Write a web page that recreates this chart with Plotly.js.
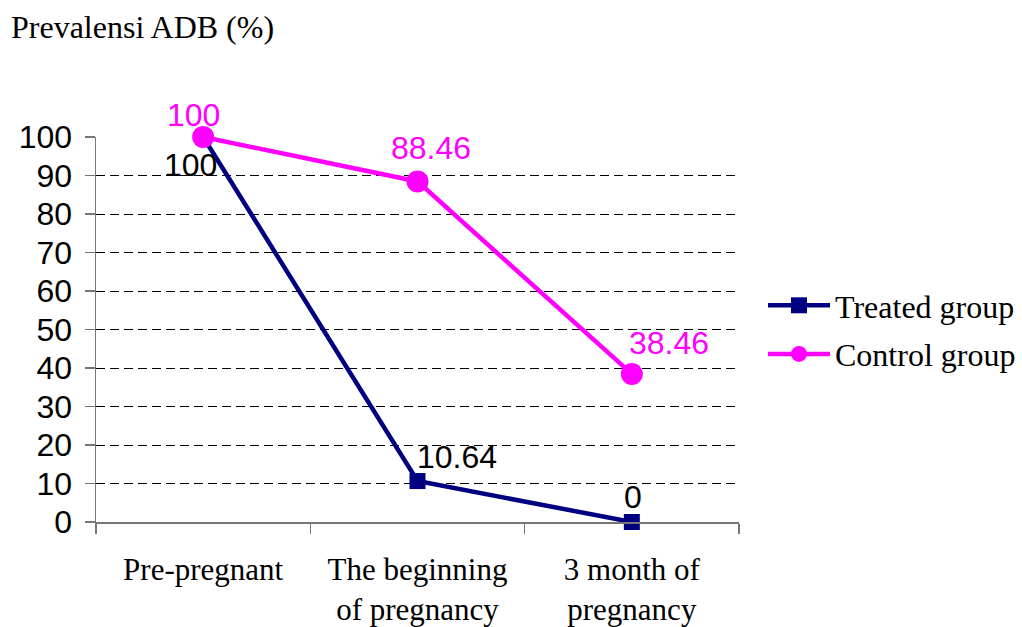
<!DOCTYPE html>
<html>
<head>
<meta charset="utf-8">
<script src="https://cdn.plot.ly/plotly-3.0.1.min.js"></script>
<style>html,body{margin:0;padding:0;background:#fff;} #chart{width:1022px;height:627px;}</style>
</head>
<body>
<div id="chart"></div>
<script>
const categories = ["Pre-pregnant", "The beginning<br>of pregnancy", "3 month of<br>pregnancy"];
const treatedValues = [100, 10.64, 0];
const controlValues = [100, 88.46, 38.46];
const treatedLabels = ["100", "10.64", "0"];
const controlLabels = ["100", "88.46", "38.46"];
const yTicks = [0, 10, 20, 30, 40, 50, 60, 70, 80, 90, 100];

const NAVY = "#000080", MAGENTA = "#FF00FF";
const SANS = "Liberation Sans, Arial, sans-serif";
const SERIF = "Liberation Serif, Times New Roman, serif";

const traces = [
  {
    name: "Treated group", legendgroup: "treated", x: categories, y: treatedValues, type: "scatter", mode: "lines+markers",
    line: {color: NAVY, width: 4.5}, marker: {symbol: "square", size: 16, color: NAVY}, cliponaxis: false
  },
  {
    name: "Control group", legendgroup: "control", x: categories, y: controlValues, type: "scatter", mode: "lines+markers",
    line: {color: MAGENTA, width: 4.5}, marker: {symbol: "circle", size: 22, color: MAGENTA}, cliponaxis: false
  }
];

const treatedShift = [[-13, -28], [39, 24], [1, 25]];
const controlShift = [[-10, 22], [13, 33], [37, 31]];
const annotations = [];
categories.forEach((c, i) => {
  annotations.push({x: c, y: treatedValues[i], xref: "x", yref: "y", text: treatedLabels[i], showarrow: false,
    xshift: treatedShift[i][0], yshift: treatedShift[i][1], font: {family: SANS, size: 32, color: "#000"}});
  annotations.push({x: c, y: controlValues[i], xref: "x", yref: "y", text: controlLabels[i], showarrow: false,
    xshift: controlShift[i][0], yshift: controlShift[i][1], font: {family: SANS, size: 32, color: MAGENTA}});
});

const layout = {
  width: 1022, height: 627,
  margin: {l: 96, r: 283, t: 137, b: 105, pad: 0},
  paper_bgcolor: "#fff", plot_bgcolor: "rgba(0,0,0,0)",
  title: {text: "Prevalensi ADB (%)", font: {family: SERIF, size: 32, color: "#000"},
    x: 11 / 1022, xref: "container", xanchor: "left", y: 1 - 27 / 627, yref: "container", yanchor: "middle"},
  xaxis: {
    type: "category", range: [-0.5, 2.5], showgrid: false, zeroline: false,
    showline: true, linecolor: "#777", linewidth: 1.5,
    ticks: "outside", tickson: "boundaries", ticklen: 10, tickcolor: "#777", tickwidth: 1.5,
    tickfont: {family: SERIF, size: 31, color: "#000"}, ticklabelstandoff: 19
  },
  yaxis: {
    range: [0, 100], tickvals: yTicks, zeroline: false,
    showgrid: true, gridcolor: "#000", gridwidth: 1, griddash: "9px,5px",
    showline: true, linecolor: "#777", linewidth: 1.5,
    ticks: "outside", ticklen: 10, tickcolor: "#777", tickwidth: 1.5,
    tickfont: {family: SANS, size: 32, color: "#000"}, ticklabelstandoff: 6
  },
  legend: {
    xref: "container", yref: "container", x: 763 / 1022, y: 1 - 278 / 627, xanchor: "left", yanchor: "top",
    font: {family: SERIF, size: 32, color: "#000"}, bgcolor: "rgba(0,0,0,0)", borderwidth: 0,
    itemwidth: 62, tracegroupgap: 4
  },
  showlegend: true,
  annotations: annotations
};

Plotly.newPlot("chart", traces, layout, {displayModeBar: false, staticPlot: true});
</script>
</body>
</html>
